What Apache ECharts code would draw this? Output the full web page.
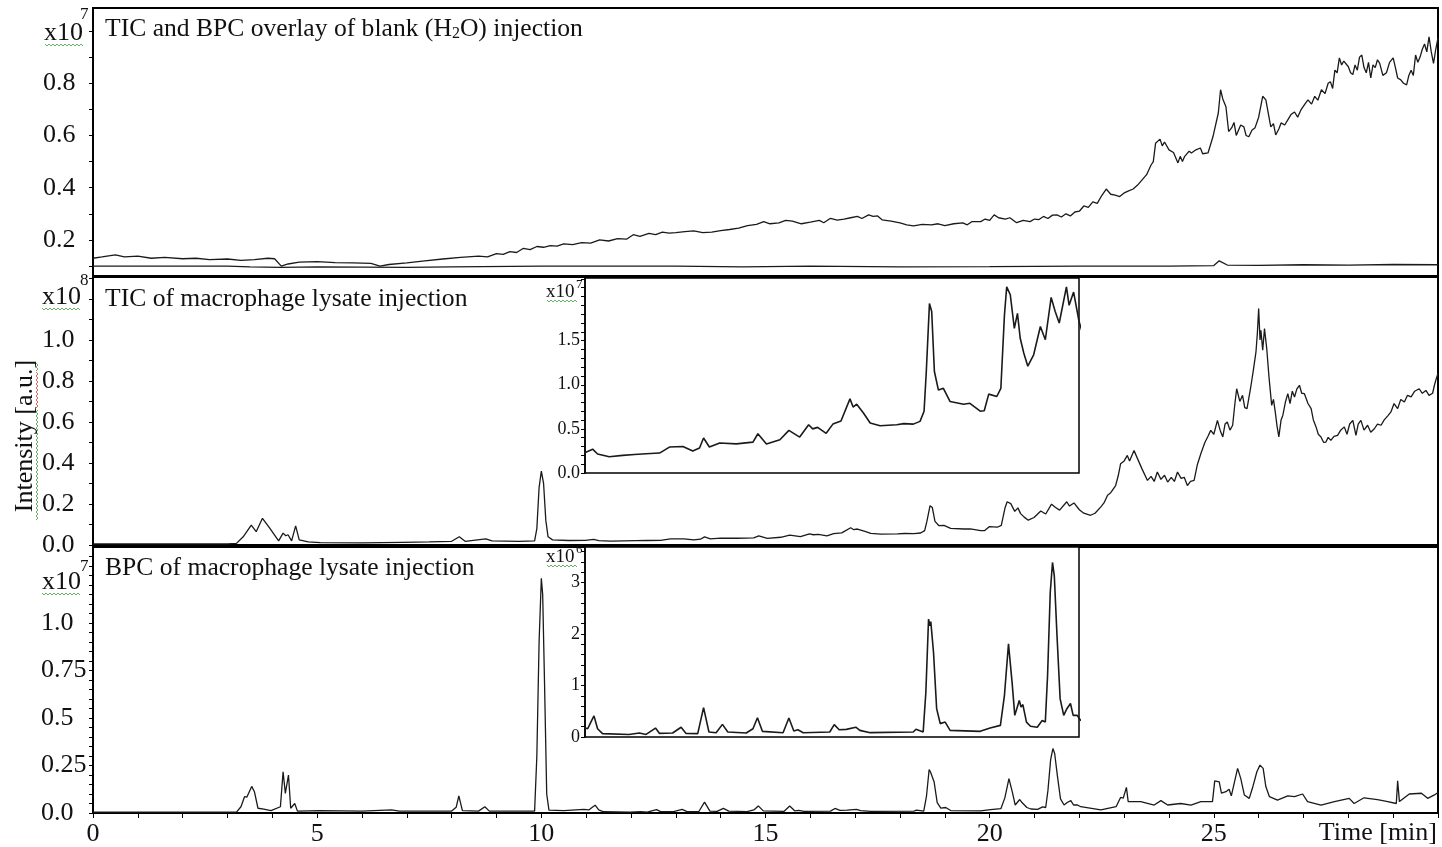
<!DOCTYPE html>
<html>
<head>
<meta charset="utf-8">
<script src="https://cdn.jsdelivr.net/npm/echarts@6/dist/echarts.min.js"></script>
<style>
html, body { margin: 0; padding: 0; background: #fff; }
#chart { width: 1442px; height: 847px; }
</style>
</head>
<body>
<div id="chart"></div>
<script>
// time [min], intensity in x10^7
var blankTic = [
	[0, 0.13], [0.2, 0.135], [0.5, 0.143], [0.7, 0.135], [1.0, 0.138], [1.3, 0.13], [1.6, 0.133],
	[2.0, 0.128], [2.3, 0.13], [2.6, 0.125], [3.0, 0.127], [3.3, 0.122], [3.6, 0.125], [3.9, 0.13],
	[4.05, 0.128], [4.2, 0.10], [4.35, 0.108], [4.6, 0.115], [5.0, 0.117], [5.4, 0.113], [5.8, 0.112],
	[6.2, 0.11], [6.4, 0.10], [6.6, 0.106], [7.0, 0.112], [7.4, 0.12], [7.8, 0.127], [8.2, 0.133],
	[8.6, 0.138], [8.8, 0.135], [9.0, 0.148], [9.15, 0.145], [9.3, 0.155], [9.45, 0.152], [9.6, 0.168],
	[9.75, 0.163], [9.9, 0.175], [10.05, 0.172], [10.2, 0.178], [10.35, 0.176], [10.5, 0.185], [10.7, 0.182],
	[10.9, 0.19], [11.1, 0.188], [11.3, 0.2], [11.5, 0.196], [11.7, 0.205], [11.9, 0.203], [12.05, 0.22],
	[12.2, 0.214], [12.4, 0.225], [12.55, 0.22], [12.7, 0.23], [12.85, 0.226], [13.0, 0.228], [13.2, 0.232],
	[13.4, 0.235], [13.6, 0.228], [13.8, 0.23], [14.0, 0.236], [14.2, 0.24], [14.4, 0.245], [14.6, 0.255],
	[14.8, 0.26], [14.96, 0.27], [15.1, 0.262], [15.3, 0.265], [15.45, 0.275], [15.6, 0.272], [15.8, 0.262],
	[16.0, 0.268], [16.2, 0.275], [16.3, 0.266], [16.45, 0.283], [16.6, 0.276], [16.75, 0.28], [16.9, 0.285],
	[17.05, 0.29], [17.15, 0.282], [17.3, 0.296], [17.4, 0.29], [17.5, 0.292], [17.6, 0.277], [17.8, 0.272],
	[18.0, 0.265], [18.15, 0.258], [18.3, 0.254], [18.5, 0.26], [18.7, 0.258], [18.85, 0.262], [19.0, 0.255],
	[19.2, 0.262], [19.4, 0.265], [19.5, 0.258], [19.6, 0.27], [19.8, 0.27], [19.9, 0.28], [20.0, 0.275],
	[20.1, 0.296], [20.2, 0.285], [20.35, 0.28], [20.45, 0.285], [20.6, 0.266], [20.75, 0.275], [20.9, 0.27],
	[21.0, 0.28], [21.1, 0.278], [21.2, 0.29], [21.3, 0.282], [21.4, 0.295], [21.5, 0.296], [21.6, 0.288],
	[21.7, 0.3], [21.8, 0.292], [21.9, 0.307], [22.0, 0.31], [22.1, 0.33], [22.2, 0.325], [22.3, 0.346],
	[22.4, 0.34], [22.5, 0.37], [22.6, 0.395], [22.7, 0.375], [22.8, 0.372], [22.9, 0.366], [23.0, 0.38],
	[23.1, 0.388], [23.2, 0.395], [23.3, 0.41], [23.4, 0.43], [23.5, 0.45], [23.6, 0.487], [23.65, 0.5],
	[23.7, 0.57], [23.8, 0.586], [23.85, 0.56], [23.9, 0.575], [24.0, 0.545], [24.1, 0.535], [24.2, 0.495],
	[24.25, 0.52], [24.3, 0.5], [24.35, 0.52], [24.45, 0.54], [24.5, 0.533], [24.6, 0.545], [24.7, 0.552],
	[24.75, 0.53], [24.87, 0.533], [24.98, 0.595], [25.1, 0.686], [25.15, 0.775], [25.2, 0.74], [25.27, 0.71],
	[25.33, 0.615], [25.4, 0.63], [25.45, 0.65], [25.5, 0.6], [25.55, 0.62], [25.6, 0.64], [25.67, 0.633],
	[25.72, 0.6], [25.78, 0.595], [25.85, 0.62], [25.92, 0.63], [26.0, 0.67], [26.09, 0.75], [26.16, 0.736],
	[26.22, 0.68], [26.27, 0.633], [26.33, 0.645], [26.38, 0.602], [26.45, 0.625], [26.5, 0.648], [26.58, 0.64],
	[26.65, 0.66], [26.72, 0.68], [26.8, 0.69], [26.87, 0.67], [26.95, 0.7], [27.03, 0.72], [27.1, 0.736],
	[27.18, 0.72], [27.25, 0.75], [27.32, 0.735], [27.4, 0.775], [27.48, 0.76], [27.55, 0.8], [27.6, 0.806],
	[27.65, 0.78], [27.7, 0.85], [27.75, 0.84], [27.8, 0.897], [27.85, 0.87], [27.9, 0.885], [28.0, 0.863],
	[28.05, 0.84], [28.1, 0.833], [28.15, 0.87], [28.2, 0.85], [28.25, 0.9], [28.3, 0.908], [28.35, 0.86],
	[28.4, 0.84], [28.45, 0.88], [28.5, 0.82], [28.55, 0.87], [28.6, 0.86], [28.65, 0.89], [28.7, 0.876],
	[28.77, 0.83], [28.85, 0.84], [28.92, 0.88], [29.0, 0.897], [29.05, 0.86], [29.1, 0.82], [29.17, 0.813],
	[29.23, 0.8], [29.3, 0.794], [29.35, 0.83], [29.4, 0.85], [29.45, 0.83], [29.5, 0.908], [29.55, 0.88],
	[29.6, 0.9], [29.65, 0.93], [29.7, 0.95], [29.75, 0.92], [29.8, 0.978], [29.85, 0.92], [29.9, 0.876],
	[29.95, 0.93], [30.0, 0.974]
];
var blankBpc = [
	[0, 0.1], [3.0, 0.1], [3.5, 0.097], [4.2, 0.095], [5.0, 0.097], [7.0, 0.095], [8.0, 0.097],
	[10.0, 0.1], [12.0, 0.1], [13.0, 0.1], [14.5, 0.097], [16.0, 0.1], [18.0, 0.097], [20.0, 0.098],
	[22.0, 0.1], [24.0, 0.1], [25.0, 0.102], [25.12, 0.12], [25.3, 0.104], [26.0, 0.103], [27.0, 0.105],
	[28.0, 0.104], [29.0, 0.106], [30.0, 0.105]
];
// time [min], intensity in x10^7
var lysateTic = [
	[0, 0.05], [3.0, 0.05], [3.2, 0.08], [3.35, 0.4], [3.53, 0.97], [3.64, 0.65], [3.78, 1.3], [3.95, 0.8],
	[4.14, 0.2], [4.24, 0.58], [4.3, 0.45], [4.35, 0.5], [4.43, 0.2], [4.52, 0.93], [4.6, 0.25], [4.8, 0.15],
	[5.07, 0.12], [6.0, 0.1], [6.9, 0.13], [7.5, 0.15], [8.0, 0.18], [8.17, 0.4], [8.3, 0.18], [8.76, 0.3],
	[8.9, 0.2], [9.5, 0.18], [9.85, 0.2], [9.9, 0.8], [9.95, 2.8], [10.0, 3.6], [10.05, 3.0], [10.1, 1.2],
	[10.15, 0.4], [10.25, 0.25], [10.6, 0.22], [10.98, 0.226], [11.17, 0.27], [11.28, 0.215], [11.54, 0.185],
	[11.84, 0.2], [12.1, 0.21], [12.36, 0.219], [12.66, 0.226], [12.88, 0.294], [13.18, 0.30], [13.4, 0.25],
	[13.55, 0.283], [13.64, 0.396], [13.77, 0.294], [14.0, 0.34], [14.37, 0.33], [14.74, 0.35], [14.85, 0.445],
	[15.04, 0.328], [15.34, 0.377], [15.54, 0.483], [15.78, 0.407], [15.98, 0.547], [16.07, 0.50], [16.18, 0.517],
	[16.37, 0.45], [16.52, 0.554], [16.7, 0.59], [16.9, 0.84], [16.97, 0.747], [17.05, 0.78], [17.2, 0.68],
	[17.35, 0.566], [17.57, 0.535], [17.94, 0.547], [18.1, 0.56], [18.31, 0.554], [18.46, 0.585], [18.55, 0.70],
	[18.6, 1.15], [18.67, 1.92], [18.72, 1.83], [18.78, 1.15], [18.87, 0.94], [18.98, 0.96], [19.13, 0.81],
	[19.43, 0.78], [19.57, 0.79], [19.8, 0.70], [19.89, 0.705], [19.99, 0.894], [20.17, 0.867], [20.26, 0.96],
	[20.34, 1.79], [20.39, 2.11], [20.47, 2.02], [20.56, 1.64], [20.63, 1.81], [20.69, 1.53], [20.77, 1.36],
	[20.86, 1.21], [20.99, 1.34], [21.14, 1.66], [21.25, 1.51], [21.38, 1.99], [21.47, 1.83], [21.56, 1.70],
	[21.72, 2.11], [21.78, 1.90], [21.88, 2.05], [22.0, 1.72], [22.1, 1.55], [22.25, 1.45], [22.35, 1.55],
	[22.48, 1.86], [22.55, 2.05], [22.63, 2.43], [22.7, 2.55], [22.81, 2.9], [22.87, 3.4], [22.92, 3.96],
	[23.0, 4.1], [23.07, 4.37], [23.12, 4.1], [23.22, 4.61], [23.3, 4.2], [23.4, 3.7], [23.52, 3.15],
	[23.6, 3.35], [23.67, 3.1], [23.74, 3.56], [23.82, 3.2], [23.9, 3.4], [23.97, 3.07], [24.05, 3.3],
	[24.12, 3.1], [24.19, 3.56], [24.27, 3.25], [24.34, 3.3], [24.41, 2.9], [24.48, 3.1], [24.56, 3.15],
	[24.63, 3.9], [24.71, 4.45], [24.8, 5.0], [24.87, 5.3], [24.93, 5.59], [25.0, 5.4], [25.08, 6.08],
	[25.14, 5.6], [25.2, 5.27], [25.25, 5.9], [25.3, 6.0], [25.36, 5.6], [25.42, 5.84], [25.47, 6.9],
	[25.51, 7.62], [25.58, 7.0], [25.64, 7.3], [25.69, 6.7], [25.74, 6.65], [25.83, 7.79], [25.88, 8.5],
	[25.94, 9.42], [25.97, 10.3], [26.0, 11.53], [26.03, 10.0], [26.05, 10.47], [26.09, 9.5], [26.13, 10.55],
	[26.18, 9.58], [26.23, 8.2], [26.29, 6.81], [26.33, 7.1], [26.37, 6.49], [26.41, 5.8], [26.45, 5.27],
	[26.5, 6.1], [26.54, 6.33], [26.6, 7.0], [26.65, 7.38], [26.7, 6.9], [26.75, 7.5], [26.8, 7.22],
	[26.85, 7.6], [26.91, 7.79], [26.96, 7.4], [27.02, 7.38], [27.1, 6.9], [27.17, 6.65], [27.22, 6.1],
	[27.28, 5.76], [27.33, 5.4], [27.39, 5.27], [27.45, 5.0], [27.5, 5.02], [27.55, 5.25], [27.61, 5.1],
	[27.68, 5.3], [27.76, 5.35], [27.83, 5.6], [27.91, 5.76], [27.97, 5.4], [28.03, 5.9], [28.1, 6.08],
	[28.17, 5.35], [28.22, 5.9], [28.28, 6.08], [28.35, 5.6], [28.43, 5.84], [28.5, 5.5], [28.58, 5.67],
	[28.65, 5.9], [28.73, 5.84], [28.8, 6.1], [28.88, 6.3], [28.95, 6.49], [29.02, 6.9], [29.1, 6.65],
	[29.17, 7.1], [29.25, 6.97], [29.32, 7.3], [29.4, 7.22], [29.48, 7.5], [29.58, 7.62], [29.65, 7.4],
	[29.73, 7.54], [29.8, 7.3], [29.84, 7.22], [29.88, 7.4], [29.92, 7.79], [29.96, 8.1], [30.0, 8.36]
];
// time [min], intensity in x10^6
var lysateBpc = [
	[0, 0.05], [3.2, 0.05], [3.3, 0.33], [3.38, 0.86], [3.43, 0.83], [3.54, 1.4], [3.6, 1.12], [3.68, 0.25],
	[3.81, 0.2], [3.97, 0.12], [4.18, 0.33], [4.24, 2.17], [4.29, 1.03], [4.36, 2.0], [4.41, 0.25], [4.5, 0.5],
	[4.56, 0.1], [5.07, 0.12], [6.0, 0.1], [6.66, 0.16], [6.83, 0.1], [8.0, 0.1], [8.1, 0.3], [8.16, 0.9],
	[8.24, 0.12], [8.6, 0.1], [8.74, 0.33], [8.84, 0.1], [9.85, 0.1], [9.9, 3.0], [9.95, 9.0], [10.0, 12.35],
	[10.03, 11.5], [10.07, 7.0], [10.12, 1.0], [10.17, 0.15], [10.5, 0.12], [10.95, 0.19], [11.06, 0.16],
	[11.13, 0.29], [11.2, 0.41], [11.28, 0.16], [11.39, 0.065], [11.98, 0.05], [12.21, 0.077], [12.36, 0.05],
	[12.57, 0.174], [12.66, 0.07], [12.95, 0.077], [13.14, 0.19], [13.25, 0.07], [13.51, 0.065], [13.64, 0.57],
	[13.76, 0.097], [13.92, 0.084], [14.06, 0.245], [14.18, 0.097], [14.59, 0.077], [14.74, 0.16], [14.84, 0.374],
	[14.95, 0.11], [15.41, 0.084], [15.54, 0.368], [15.65, 0.116], [15.74, 0.14], [15.86, 0.084], [16.45, 0.097],
	[16.55, 0.24], [16.66, 0.14], [16.82, 0.148], [17.03, 0.19], [17.12, 0.129], [17.35, 0.084], [18.31, 0.097],
	[18.37, 0.15], [18.53, 0.097], [18.59, 0.87], [18.65, 2.29], [18.68, 2.16], [18.7, 2.24], [18.76, 1.65],
	[18.83, 0.55], [18.91, 0.26], [19.02, 0.29], [19.13, 0.129], [19.8, 0.11], [20.02, 0.174], [20.25, 0.226],
	[20.34, 0.81], [20.43, 1.81], [20.51, 1.06], [20.57, 0.42], [20.67, 0.71], [20.71, 0.58], [20.75, 0.63],
	[20.83, 0.29], [20.92, 0.21], [21.07, 0.19], [21.18, 0.32], [21.25, 0.29], [21.3, 1.19], [21.36, 2.81],
	[21.41, 3.39], [21.45, 3.13], [21.51, 1.97], [21.58, 0.74], [21.66, 0.42], [21.73, 0.55], [21.81, 0.65],
	[21.87, 0.42], [21.96, 0.42], [22.03, 0.33], [22.48, 0.16], [22.82, 0.33], [22.92, 0.82], [22.98, 0.78],
	[23.05, 1.35], [23.09, 0.6], [23.37, 0.6], [23.67, 0.42], [23.82, 0.65], [23.97, 0.42], [24.26, 0.5],
	[24.49, 0.42], [24.71, 0.6], [24.97, 0.6], [25.02, 1.69], [25.12, 1.64], [25.17, 1.04], [25.27, 1.12],
	[25.34, 1.25], [25.39, 0.9], [25.53, 2.35], [25.6, 1.82], [25.68, 0.95], [25.79, 0.77], [25.86, 1.3],
	[25.96, 2.17], [26.03, 2.52], [26.1, 2.35], [26.16, 1.39], [26.24, 0.86], [26.42, 0.68], [26.65, 0.9],
	[26.8, 0.86], [26.98, 1.0], [27.09, 0.6], [27.39, 0.42], [27.69, 0.6], [28.02, 0.77], [28.13, 0.5],
	[28.35, 0.8], [28.65, 0.7], [28.88, 0.6], [29.07, 0.5], [29.1, 1.69], [29.14, 0.6], [29.36, 1.0],
	[29.63, 1.04], [29.77, 0.77], [29.92, 0.95], [30.0, 1.08]
];

// tick positions and labels (axis units)
var timeLabels = [0, 5, 10, 15, 20, 25];
var timeTicks = [0, 1, 2, 3, 4, 5, 6, 7, 8, 9, 10, 11, 12, 13, 14, 15, 16, 17, 18, 19, 20, 21, 22, 23, 24, 25, 26, 27, 28, 29, 30];
var blankLabels = [0.2, 0.4, 0.6, 0.8];
var blankTicks = [0.1, 0.2, 0.3, 0.4, 0.5, 0.6, 0.7, 0.8, 0.9, 1.0];
var ticLabels = [0, 2, 4, 6, 8, 10];
var ticTicks = [0, 1, 2, 3, 4, 5, 6, 7, 8, 9, 10, 11, 12, 13];
var bpcLabels = [0, 2.5, 5, 7.5, 10];
var bpcLabelText = ['0.0', '0.25', '0.5', '0.75', '1.0'];
var bpcTicks = [0, 0.5, 1, 1.5, 2, 2.5, 3, 3.5, 4, 4.5, 5, 5.5, 6, 6.5, 7, 7.5, 8, 8.5, 9, 9.5, 10, 10.5, 11, 11.5, 12, 12.5, 13, 13.5];
var ticInsetLabels = [0, 0.5, 1.0, 1.5];
var ticInsetTicks = [0, 0.1, 0.2, 0.3, 0.4, 0.5, 0.6, 0.7, 0.8, 0.9, 1.0, 1.1, 1.2, 1.3, 1.4, 1.5, 1.6, 1.7, 1.8, 1.9, 2.0, 2.1, 2.2];
var bpcInsetLabels = [0, 1, 2, 3];
var bpcInsetTicks = [0, 0.2, 0.4, 0.6, 0.8, 1.0, 1.2, 1.4, 1.6, 1.8, 2.0, 2.2, 2.4, 2.6, 2.8, 3.0, 3.2, 3.4, 3.6];

var serif = "'Liberation Serif', 'Times New Roman', serif";
var ink = '#111';

function yAxisOf(grid, min, max, ticks, labels, fmt, size, align, margin) {
	return {
		type: 'value', gridIndex: grid, min: min, max: max,
		axisLine: { show: true, lineStyle: { color: '#000', width: 1.5 } },
		axisTick: { show: true, inside: false, length: 4, customValues: ticks, lineStyle: { color: '#000', width: 1 } },
		axisLabel: {
			customValues: labels, formatter: fmt, fontFamily: serif, fontSize: size,
			color: ink, align: align, margin: margin
		},
		splitLine: { show: false }
	};
}

function xAxisOf(grid, min, max) {
	return {
		type: 'value', gridIndex: grid, min: min, max: max,
		axisLine: { show: false }, axisTick: { show: false },
		axisLabel: { show: false }, splitLine: { show: false }
	};
}

function text(x, y, s, size, align) {
	return {
		type: 'text', z: 10,
		style: { text: s, x: x, y: y, font: size + 'px ' + serif, fill: ink, align: align || 'left', verticalAlign: 'middle' }
	};
}

// spell-check style wavy underline, as seen under the labels of the original figure
function squiggle(x0, y0, len, vertical, color) {
	var pts = [];
	for (var i = 0; i <= len; i += 2) {
		var d = (i / 2) % 2 === 0 ? -1 : 1;
		pts.push(vertical ? [x0 + d, y0 - i] : [x0 + i, y0 + d]);
	}
	return { type: 'polyline', z: 9, shape: { points: pts }, style: { stroke: color, lineWidth: 0.8, fill: null } };
}

function line(data, xi, yi, w) {
	return {
		type: 'line', xAxisIndex: xi, yAxisIndex: yi, data: data,
		symbol: 'none', showSymbol: false, lineStyle: { color: '#1a1a1a', width: w },
		animation: false, silent: true
	};
}

var chart = echarts.init(document.getElementById('chart'));

var mainX = xAxisOf(2, 0, 30);
mainX.axisTick = { show: true, inside: false, length: 5, customValues: timeTicks, lineStyle: { color: '#000', width: 1 } };
mainX.axisLabel = { show: true, customValues: timeLabels, fontFamily: serif, fontSize: 26, color: ink, margin: 8 };

var green = '#3f9f3f';

var option = {
	backgroundColor: '#fff',
	animation: false,
	grid: [
		{ left: 93, top: 8, width: 1345, height: 268, show: true, borderColor: '#000', borderWidth: 2 },
		{ left: 93, top: 277, width: 1345, height: 268, show: true, borderColor: '#000', borderWidth: 2 },
		{ left: 93, top: 547, width: 1345, height: 266, show: true, borderColor: '#000', borderWidth: 2 },
		{ left: 585, top: 278, width: 494, height: 195, show: true, borderColor: '#000', borderWidth: 1.5, backgroundColor: '#fff' },
		{ left: 585, top: 547, width: 494, height: 190, show: true, borderColor: '#000', borderWidth: 1.5, backgroundColor: '#fff' }
	],
	xAxis: [xAxisOf(0, 0, 30), xAxisOf(1, 0, 30), mainX, xAxisOf(3, 11, 22), xAxisOf(4, 11, 22)],
	yAxis: [
		yAxisOf(0, 0.062, 1.088, blankTicks, blankLabels, function (v) { return v.toFixed(1); }, 26, 'left', 50),
		yAxisOf(1, 0, 13.07, ticTicks, ticLabels, function (v) { return (v / 10).toFixed(1); }, 26, 'left', 51),
		yAxisOf(2, 0, 14, bpcTicks, bpcLabels, function (v) { return bpcLabelText[bpcLabels.indexOf(v)]; }, 26, 'left', 52),
		yAxisOf(3, 0, 2.21, ticInsetTicks, ticInsetLabels, function (v) { return v.toFixed(1); }, 18, 'right', 5),
		yAxisOf(4, 0, 3.69, bpcInsetTicks, bpcInsetLabels, function (v) { return String(v); }, 18, 'right', 5)
	],
	series: [
		line(blankTic, 0, 0, 1.3),
		line(blankBpc, 0, 0, 1.3),
		line(lysateTic, 1, 1, 1.3),
		line(lysateBpc, 2, 2, 1.3),
		line(lysateTic, 3, 3, 1.6),
		line(lysateBpc, 4, 4, 1.6)
	],
	graphic: {
		z: 100,
		elements: [
			{
				type: 'text', z: 10, left: 105, top: 16,
				style: {
					text: 'TIC and BPC overlay of blank (H{sub|2}O) injection',
					font: '25.6px ' + serif, fill: ink,
					rich: { sub: { fontSize: 16, fontFamily: serif, verticalAlign: 'bottom', lineHeight: 16 } }
				}
			},
			text(105, 299, 'TIC of macrophage lysate injection', 25.6),
			text(105, 568, 'BPC of macrophage lysate injection', 25.6),
			text(44, 33, 'x10', 26), text(80, 15, '7', 17),
			text(42, 297, 'x10', 26), text(80, 281, '8', 17),
			text(42, 582, 'x10', 26), text(80, 567, '7', 17),
			text(546, 292, 'x10', 19), text(576, 285, '7', 13),
			text(546, 557, 'x10', 19), text(576, 550, '6', 13),
			text(1437, 833, 'Time [min]', 26, 'right'),
			{
				type: 'text', z: 10, x: 25, y: 436, rotation: Math.PI / 2,
				style: { text: 'Intensity [a.u.]', font: '26px ' + serif, fill: ink, align: 'center', verticalAlign: 'middle' }
			},
			squiggle(45, 45, 38, false, green),
			squiggle(42, 309, 38, false, green),
			squiggle(42, 594, 38, false, green),
			squiggle(547, 301, 30, false, green),
			squiggle(547, 566, 30, false, green),
			squiggle(37, 520, 110, true, green),
			squiggle(37, 408, 36, true, '#d23c3c'),
			squiggle(37, 371, 8, true, green)
		]
	}
};

chart.setOption(option);
</script>
</body>
</html>
